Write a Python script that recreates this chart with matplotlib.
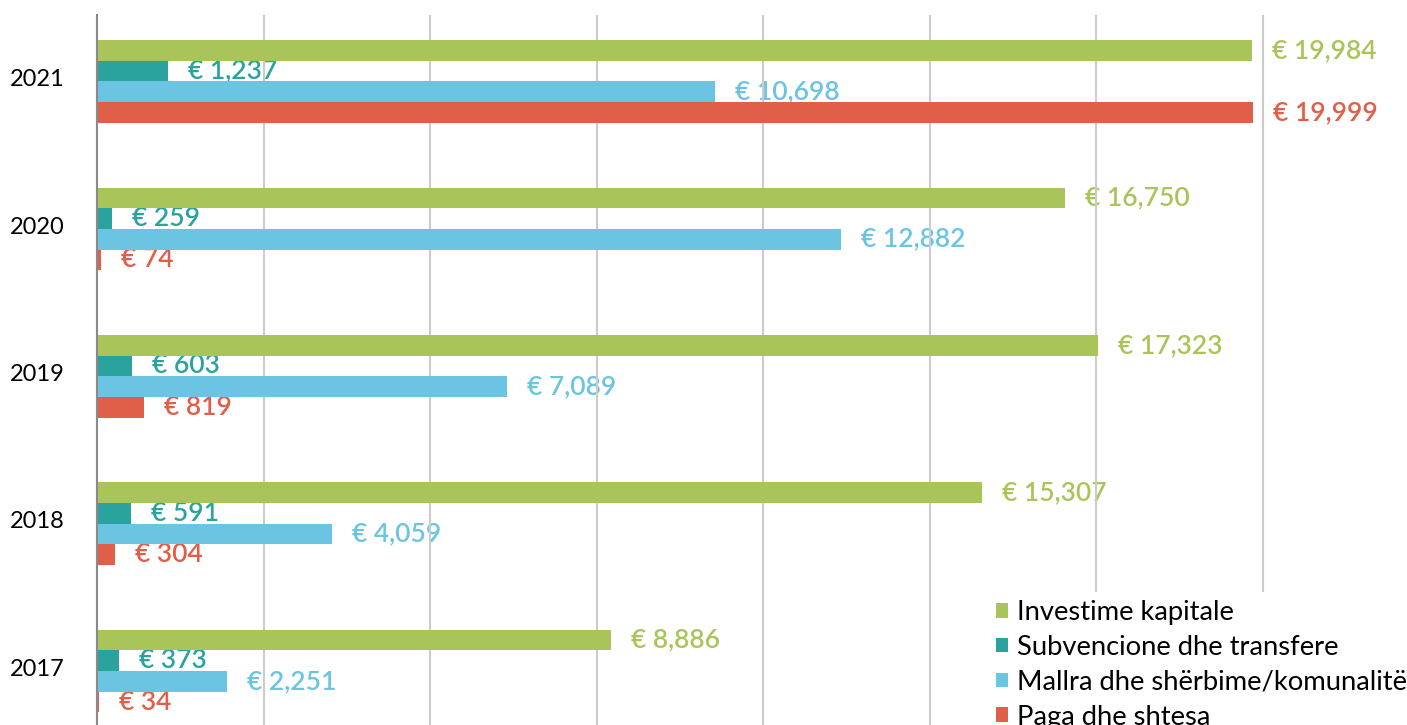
import matplotlib
matplotlib.use("Agg")
import matplotlib.pyplot as plt
import numpy as np

years = ["2017", "2018", "2019", "2020", "2021"]
series_names = ["Investime kapitale", "Subvencione dhe transfere",
                "Mallra dhe shërbime/komunalitë", "Paga dhe shtesa"]
investime = [8886, 15307, 17323, 16750, 19984]
subvencione = [373, 591, 603, 259, 1237]
mallra = [2251, 4059, 7089, 12882, 10698]
paga = [34, 304, 819, 74, 19999]
colors = ["#A9C55A", "#2AA39E", "#6AC4E2", "#E05F48"]

plt.rcParams['font.family'] = ['Lato', 'DejaVu Sans']

fig = plt.figure(figsize=(14.07, 7.25), dpi=100)
ax = fig.add_axes([97/1407, 0, (1407-97)/1407, (725-15)/725])

data = [investime, subvencione, mallra, paga]
ypos = np.arange(len(years))
h = 0.14
offsets = [1.5*h, 0.5*h, -0.5*h, -1.5*h]

for vals, col, off, name in zip(data, colors, offsets, series_names):
    ax.barh(ypos + off, vals, height=h, color=col, zorder=3, label=name, linewidth=0)
    for y, v in zip(ypos, vals):
        ax.annotate(f"€ {v:,}", xy=(v, y + off), xytext=(20, 0), textcoords='offset pixels',
                    ha='left', va='center', color=col, fontsize=19, fontweight='semibold',
                    zorder=1)

ax.set_xlim(0, 22668)
ax.set_ylim(-0.366, 4.451)
grid_step = 2882
ax.set_xticks(np.arange(1, 8) * grid_step)
ax.xaxis.grid(True, color="#cccccc", linewidth=1.5, zorder=2)
ax.set_axisbelow(False)
for gl in ax.get_xgridlines():
    gl.set_zorder(2)
ax.tick_params(axis='x', length=0, labelbottom=False)
ax.set_yticks(ypos + 0.025)
ax.set_yticklabels(years, fontsize=17)
ax.tick_params(axis='y', length=0, pad=23)
for s in ["top", "right", "bottom"]:
    ax.spines[s].set_visible(False)
ax.spines["left"].set_color("#8a8a8a")
ax.spines["left"].set_linewidth(1.5)
ax.spines["left"].set_zorder(4)

leg = ax.legend(loc='lower right', bbox_to_anchor=(1.006, -0.018), frameon=True, fontsize=19.7,
                handlelength=0.45, handleheight=0.45, handletextpad=0.3, labelspacing=0.36,
                borderpad=0.3, borderaxespad=0.0)
leg.get_frame().set_facecolor("white")
leg.get_frame().set_edgecolor("none")
leg.get_frame().set_alpha(1.0)
leg.set_zorder(5)

fig.savefig("out.png", dpi=100)
